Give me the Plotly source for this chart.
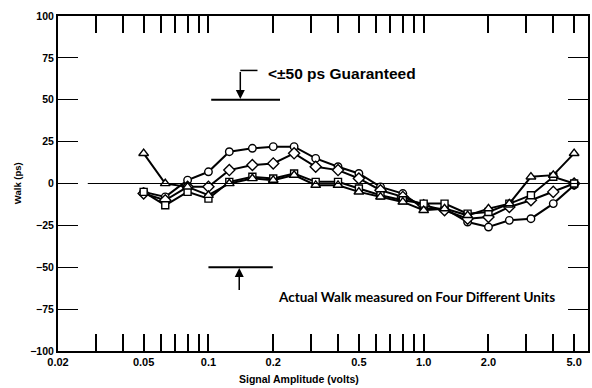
import math
import plotly.graph_objects as go

# Signal amplitude (volts)
amplitude = [0.05, 0.063, 0.08, 0.1, 0.125, 0.16, 0.2, 0.25, 0.315, 0.4, 0.5,
             0.63, 0.8, 1.0, 1.25, 1.6, 2.0, 2.5, 3.15, 4.0, 5.0]

# Walk (ps) for four units
unit_circle = [-5, -8, 2, 7, 19, 21, 22, 22, 15, 10, 6,
               -2, -6, -15, -15, -23, -26, -22, -21, -12, -1]
unit_diamond = [-6, -10, -2, -2, 8, 11, 12, 18, 10, 8, 3,
                -4, -8, -13, -16, -21, -20, -14, -10, -5, 0]
unit_square = [-5, -13, -5, -9, 1, 4, 3, 6, 1, 1, -3,
               -7, -10, -12, -12, -18, -17, -12, -7, 4, 0]
unit_triangle = [18, 0, -2, -7, 0, 3, 2, 5, -1, -1, -5,
                 -8, -11, -16, -15, -19, -15, -12, 4, 5, 18]

x_tickvals = [0.02, 0.03, 0.04, 0.05, 0.06, 0.07, 0.08, 0.09, 0.1,
              0.2, 0.3, 0.4, 0.5, 0.6, 0.7, 0.8, 0.9, 1.0, 2.0, 3.0, 4.0, 5.0]
x_ticktext = ["0.02", "", "", "0.05", "", "", "", "", "0.1",
              "0.2", "", "", "0.5", "", "", "", "", "1.0", "2.0", "", "", "5.0"]
y_tickvals = [-100, -75, -50, -25, 0, 25, 50, 75, 100]
y_ticktext = ["\u2212100", "\u221275", "\u221250", "\u221225", "0", "25", "50", "75", "100"]

FONT = "Liberation Sans"

fig = go.Figure()

series = [
    (unit_circle, "circle", 7.5),
    (unit_diamond, "diamond", 8.5),
    (unit_square, "square", 7),
    (unit_triangle, "triangle-up", 8.5),
]
for vals, sym, size in series:
    fig.add_trace(go.Scatter(
        x=amplitude, y=vals, mode="lines+markers",
        line=dict(color="black", width=2),
        marker=dict(symbol=sym, size=size, color="white",
                    line=dict(color="black", width=1.4)),
        showlegend=False, hoverinfo="skip",
    ))

shapes = [
    # zero reference line
    dict(type="line", xref="x", yref="y", x0=0.0275, x1=5.8, y0=0, y1=0,
         line=dict(color="black", width=1)),
    # +50 guarantee bar
    dict(type="line", xref="x", yref="y", x0=0.103, x1=0.215, y0=50, y1=50,
         line=dict(color="black", width=2)),
    dict(type="line", xref="x", yref="y", x0=0.1406, x1=0.169, y0=67.5, y1=67.5,
         line=dict(color="black", width=1.5)),
    # -50 guarantee bar
    dict(type="line", xref="x", yref="y", x0=0.1, x1=0.199, y0=-50, y1=-50,
         line=dict(color="black", width=2)),
]

annotations = [
    dict(x=math.log10(0.1406), y=50.5, ax=math.log10(0.1406), ay=67.5,
         xref="x", yref="y", axref="x", ayref="y", text="", showarrow=True,
         arrowhead=2, arrowsize=1.2, arrowwidth=1.5, arrowcolor="black"),
    dict(x=math.log10(0.139), y=-50.5, ax=math.log10(0.139), ay=-64.5,
         xref="x", yref="y", axref="x", ayref="y", text="", showarrow=True,
         arrowhead=2, arrowsize=1.2, arrowwidth=1.5, arrowcolor="black"),
    dict(x=343, y=73, xref="paper", yref="paper", text="<\u00b150 ps Guaranteed",
         showarrow=False, font=dict(family=FONT, size=15.5, color="black", weight="bold"),
         xanchor="center", yanchor="middle"),
    dict(x=418, y=297, xref="paper", yref="paper",
         text="Actual Walk measured on Four Different Units",
         showarrow=False, font=dict(family="Lato", size=13.5, color="black", weight="bold"),
         xanchor="center", yanchor="middle"),
    dict(x=300, y=379, xref="paper", yref="paper", text="Signal Amplitude (volts)",
         showarrow=False, font=dict(family=FONT, size=10.5, color="black", weight="bold"),
         xanchor="center", yanchor="middle"),
    dict(x=18, y=183, xref="paper", yref="paper", text="Walk (ps)", textangle=-90,
         showarrow=False, font=dict(family=FONT, size=9.5, color="black", weight="bold"),
         xanchor="center", yanchor="middle"),
]

# convert pixel-placed annotations to paper coords
W, H = 592, 388
L, R, T, B = 58, 2, 16, 37
pw, ph = W - L - R, H - T - B
for a in annotations:
    if a["xref"] == "paper":
        a["x"] = (a["x"] - L) / pw
        a["y"] = 1 - (a["y"] - T) / ph

fig.update_layout(
    width=W, height=H,
    margin=dict(l=L, r=R, t=T, b=B, pad=0),
    paper_bgcolor="white", plot_bgcolor="white",
    shapes=shapes, annotations=annotations,
    xaxis=dict(type="log", range=[math.log10(0.02), math.log10(5.8)],
               tickvals=x_tickvals, ticktext=x_ticktext,
               ticks="inside", ticklen=17, tickwidth=1.5, tickcolor="black",
               showline=True, linewidth=2, linecolor="black", mirror="ticks",
               showgrid=False, zeroline=False,
               tickfont=dict(family=FONT, size=11, color="black", weight="bold")),
    yaxis=dict(range=[-100, 100], tickvals=y_tickvals, ticktext=y_ticktext,
               ticks="inside", ticklen=20, tickwidth=1.2, tickcolor="black",
               showline=True, linewidth=2, linecolor="black", mirror="ticks",
               showgrid=False, zeroline=False,
               tickfont=dict(family=FONT, size=10.5, color="black", weight="bold")),
)

fig.write_html("out.html", config={"displayModeBar": False},
               post_script="document.body.style.margin='0';")
